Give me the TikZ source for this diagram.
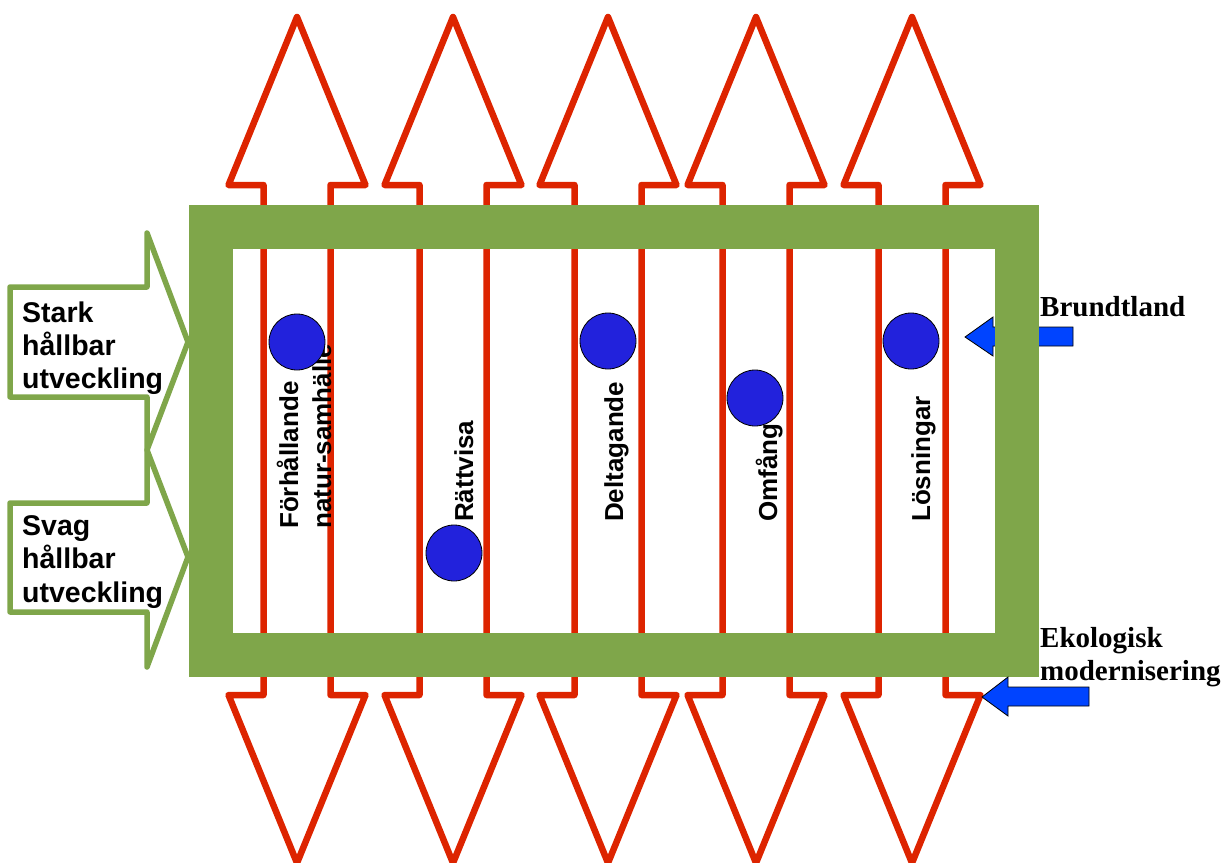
\documentclass[tikz,border=0pt]{standalone}
\usepackage{fontspec}
\setmainfont{Liberation Serif}
\newfontfamily\arialf{Liberation Sans}
\definecolor{rd}{RGB}{221,36,0}
\definecolor{gr}{RGB}{127,166,74}
\definecolor{dot}{RGB}{34,34,220}
\definecolor{bl}{RGB}{0,68,255}
\begin{document}
\begin{tikzpicture}[x=1pt,y=-1pt,
 redarrow/.style={draw=rd,line width=6.5pt,line join=round},
 greenarrow/.style={draw=gr,line width=5.5pt,line join=round,fill=white},
 lbl/.style={inner sep=0pt,anchor=base west,font=\arialf\bfseries\fontsize{28.5}{33}\selectfont},
 vlbl/.style={inner sep=0pt,anchor=base west,rotate=90,font=\arialf\bfseries\fontsize{26}{31}\selectfont},
 tlbl/.style={inner sep=0pt,anchor=base west,font=\bfseries\fontsize{29}{33}\selectfont},
 dotc/.style={circle,draw=black,line width=0.8pt,fill=dot,minimum size=56pt,inner sep=0pt},
 bluearrow/.style={draw=black,line width=0.8pt,fill=bl,line join=miter},
 frame/.style={draw=gr,line width=44pt}]
\useasboundingbox (0,0) rectangle (1228,862);
% red double arrows
\foreach \c in {297,453,608,756,912}{
  \draw[redarrow] (\c,17) -- (\c+68.5,185) -- (\c+33.5,185) -- (\c+33.5,695)
    -- (\c+68.5,695) -- (\c,863) -- (\c-68.5,695) -- (\c-33.5,695)
    -- (\c-33.5,185) -- (\c-68.5,185) -- cycle;
}
% vertical labels
\node[vlbl] (l1a) at (298,529) {Förhållande};
\node[vlbl] (l1b) at (331,529) {natur-samhälle};
\node[vlbl] (l2) at (473,522) {Rättvisa};
\node[vlbl] (l3) at (623,522) {Deltagande};
\node[vlbl] (l4) at (777,522) {Omfång};
\node[vlbl] (l5) at (930,522) {Lösningar};
% dots
\node[dotc] (d1) at (297,342) {};
\node[dotc] (d2) at (454,553) {};
\node[dotc] (d3) at (608,341) {};
\node[dotc] (d4) at (755,398) {};
\node[dotc] (d5) at (911,341) {};
% Brundtland arrow (behind frame)
\draw[bluearrow] (965,337) -- (993,317) -- (993,327) -- (1073,327) -- (1073,346)
  -- (993,346) -- (993,356) -- cycle;
% green frame
\draw[frame] (211,227) rectangle (1017,655);
% green arrows on the left
\draw[greenarrow] (10,287) -- (147,287) -- (147,233) -- (188,342) -- (147,450)
  -- (147,397) -- (10,397) -- cycle;
\draw[greenarrow] (10,503) -- (147,503) -- (147,450) -- (188,557) -- (147,667)
  -- (147,612) -- (10,612) -- cycle;
\node[lbl] (s1) at (22,322) {Stark};
\node[lbl] (s2) at (22,355) {hållbar};
\node[lbl] (s3) at (22,388) {utveckling};
\node[lbl] (w1) at (22,535) {Svag};
\node[lbl] (w2) at (22,568) {hållbar};
\node[lbl] (w3) at (22,602) {utveckling};
% right labels
\node[tlbl] (br) at (1040,316) {Brundtland};
\node[tlbl] (ek1) at (1040,647) {Ekologisk};
\node[tlbl] (ek2) at (1040,680) {modernisering};
\draw[bluearrow] (982,697) -- (1008,677) -- (1008,687) -- (1089,687) -- (1089,706)
  -- (1008,706) -- (1008,716) -- cycle;
\end{tikzpicture}
\end{document}
